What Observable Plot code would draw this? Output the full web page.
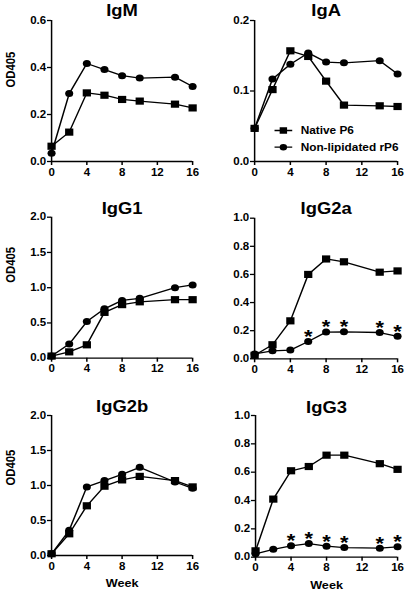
<!DOCTYPE html>
<html><head><meta charset="utf-8">
<script src="https://cdn.jsdelivr.net/npm/d3@7"></script>
<script src="https://cdn.jsdelivr.net/npm/@observablehq/plot@0.6"></script>
<style>
body{margin:0;background:#fff;}
#root{position:relative;width:409px;height:593px;overflow:hidden;background:#fff;}
.panel{position:absolute;transform-origin:0 0;}
</style></head><body><div id="root"></div>
<script>
// ---- data ----
const weeks = [0, 2, 4, 6, 8, 10, 14, 16];
const xTicks = [0, 4, 8, 12, 16];
const seriesNames = ["Native P6", "Non-lipidated rP6"];
const panelTitles = ["IgM", "IgA", "IgG1", "IgG2a", "IgG2b", "IgG3"];
const yLabel = "OD405";
const xLabel = "Week";

const igmNative  = [0.065, 0.125, 0.292, 0.282, 0.264, 0.257, 0.244, 0.228];
const igmNonLip  = [0.035, 0.289, 0.417, 0.391, 0.365, 0.355, 0.359, 0.319];
const igaNative  = [0.047, 0.102, 0.157, 0.149, 0.114, 0.080, 0.079, 0.078];
const igaNonLip  = [0.047, 0.117, 0.138, 0.154, 0.141, 0.140, 0.143, 0.124];
const igg1Native = [0.03, 0.09, 0.19, 0.65, 0.76, 0.80, 0.83, 0.83];
const igg1NonLip = [0.03, 0.20, 0.52, 0.70, 0.82, 0.85, 1.00, 1.04];
const igg2aNative = [0.025, 0.10, 0.27, 0.60, 0.71, 0.69, 0.616, 0.625];
const igg2aNonLip = [0.035, 0.057, 0.062, 0.123, 0.19, 0.192, 0.187, 0.16];
const igg2bNative = [0.025, 0.31, 0.71, 0.99, 1.08, 1.13, 1.07, 0.98];
const igg2bNonLip = [0.025, 0.36, 0.98, 1.07, 1.16, 1.26, 1.05, 0.96];
const igg3Native = [0.045, 0.41, 0.61, 0.64, 0.72, 0.72, 0.66, 0.62];
const igg3NonLip = [0.024, 0.056, 0.08, 0.096, 0.078, 0.068, 0.064, 0.073];

const yDomains = [[0, 0.6], [0, 0.2], [0, 2], [0, 1], [0, 2], [0, 1]];
const yTicks = [
  [0, 0.2, 0.4, 0.6],
  [0, 0.1, 0.2],
  [0, 0.5, 1.0, 1.5, 2.0],
  [0, 0.2, 0.4, 0.6, 0.8, 1.0],
  [0, 0.5, 1.0, 1.5, 2.0],
  [0, 0.2, 0.4, 0.6, 0.8, 1.0]
];
// weeks marked with * (significant)
const sigWeeks = [[], [], [], [6, 8, 10, 14, 16], [], [4, 6, 8, 10, 14, 16]];

const nativeSeries = [igmNative, igaNative, igg1Native, igg2aNative, igg2bNative, igg3Native];
const nonLipSeries = [igmNonLip, igaNonLip, igg1NonLip, igg2aNonLip, igg2bNonLip, igg3NonLip];

// ---- layout (presentation only) ----
const S = 1.15;           // horizontal stretch of the original figure
const W = 178;            // internal width of each panel
const colLeft = [0, 200];
const rowTop = [0, 195, 390];
const rowH = [195, 195, 203];
const geom = [
  {ml: 44.35, mr: 11.0, mt: 20,   mb: 34,   tDy: -4.5, lDy: -3.5},
  {ml: 47.0,  mr: 6.7,  mt: 20,   mb: 34,   tDy: -4.5},
  {ml: 44.35, mr: 11.0, mt: 21.7, mb: 32.3, tDy: -3,   lDy: -5},
  {ml: 47.0,  mr: 6.7,  mt: 22.7, mb: 31.7, tDy: -4},
  {ml: 44.35, mr: 11.0, mt: 25,   mb: 38,   tDy: -3.3, lDy: 0},
  {ml: 47.8,  mr: 6.7,  mt: 25,   mb: 36.3, tDy: -2.5}
];
const FONT = "Arial, 'Liberation Sans', Helvetica, sans-serif";

const legendSym = (kind) => ({
  draw(ctx, size) {
    const h = Math.sqrt(size) / 2;
    const L = 7.7, t = 0.65;
    ctx.moveTo(-L, -t); ctx.lineTo(L, -t); ctx.lineTo(L, t); ctx.lineTo(-L, t); ctx.closePath();
    if (kind === "square") {
      ctx.moveTo(-h * 0.9, -h * 0.9); ctx.lineTo(h * 0.9, -h * 0.9); ctx.lineTo(h * 0.9, h * 0.9); ctx.lineTo(-h * 0.9, h * 0.9); ctx.closePath();
    } else {
      ctx.moveTo(h * 0.9, 0); ctx.arc(0, 0, h * 0.9, 0, 2 * Math.PI);
    }
  }
});

const root = document.getElementById("root");

panelTitles.forEach((title, p) => {
  const col = p % 2, row = Math.floor(p / 2);
  const g = geom[p];
  const nat = weeks.map((w, i) => ({week: w, od: nativeSeries[p][i]}));
  const non = weeks.map((w, i) => ({week: w, od: nonLipSeries[p][i]}));
  const sig = non.filter(d => sigWeeks[p].includes(d.week));

  const marks = [
    Plot.ruleX([0], {stroke: "black", strokeWidth: 1.3}),
    Plot.ruleY([0], {stroke: "black", strokeWidth: 1.3}),
    Plot.axisY({ticks: yTicks[p], tickFormat: d3.format(".1f"), tickSize: 3.5, tickPadding: 1.2, strokeWidth: 1.3, label: null}),
    Plot.axisX({ticks: xTicks, tickFormat: d3.format("d"), tickSize: 4, tickPadding: 3, strokeWidth: 1.3, label: null}),
    Plot.line(non, {x: "week", y: "od", stroke: "black", strokeWidth: 1.3}),
    Plot.dot(non, {x: "week", y: "od", symbol: "circle", r: 3.5, fill: "black", stroke: "none"}),
    Plot.line(nat, {x: "week", y: "od", stroke: "black", strokeWidth: 1.3}),
    Plot.dot(nat, {x: "week", y: "od", symbol: "square", r: 4.05, fill: "black", stroke: "none"}),
    Plot.text([title], {text: d => d, frameAnchor: "top", lineAnchor: "bottom", dy: g.tDy, fontSize: 16, fontWeight: "bold"})
  ];
  if (sig.length) {
    marks.push(Plot.text(sig, {x: "week", y: "od", text: () => "*", dy: -4.7, fontSize: 19, fontWeight: "bold"}));
  }
  if (col === 0) {
    marks.push(Plot.text([yLabel], {text: d => d, frameAnchor: "left", rotate: -90, dx: -35, dy: g.lDy, fontSize: 11.3, fontWeight: "bold"}));
  }
  if (row === 2) {
    marks.push(Plot.text([xLabel], {text: d => d, frameAnchor: "bottom", lineAnchor: "bottom", dy: 31.5, fontSize: 11, fontWeight: "bold"}));
  }
  if (p === 1) {
    seriesNames.forEach((name, i) => {
      marks.push(Plot.dot([name], {frameAnchor: "top-left", dx: 25, dy: 110 + i * 16.7, symbol: legendSym(i === 0 ? "square" : "circle"), r: 4.05, fill: "black", stroke: "none"}));
      marks.push(Plot.text([name], {text: d => d, frameAnchor: "top-left", dx: 40, dy: 110 + i * 16.7, textAnchor: "start", lineAnchor: "middle", fontSize: 10.3, fontWeight: "bold"}));
    });
  }

  const chart = Plot.plot({
    width: W,
    height: rowH[row],
    marginLeft: g.ml, marginRight: g.mr, marginTop: g.mt, marginBottom: g.mb,
    x: {domain: [0, 16]},
    y: {domain: yDomains[p]},
    style: {fontFamily: FONT, fontSize: "10px", fontWeight: "bold", color: "black", background: "transparent", overflow: "visible"},
    marks
  });
  chart.style.maxWidth = "none";
  chart.style.height = rowH[row] + "px";
  chart.style.overflow = "visible";
  const div = document.createElement("div");
  div.className = "panel";
  div.style.left = colLeft[col] + "px";
  div.style.top = rowTop[row] + "px";
  div.style.transform = `scaleX(${S})`;
  div.appendChild(chart);
  root.appendChild(div);
});
</script>
</body></html>
